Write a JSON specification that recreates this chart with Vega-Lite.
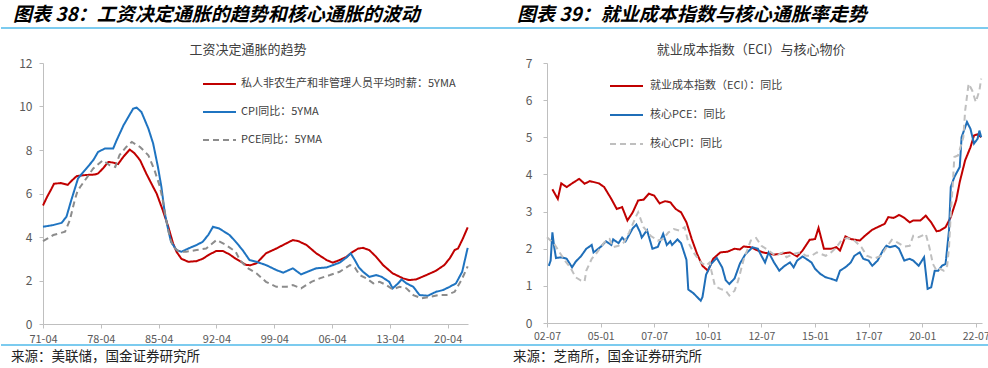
{
"$schema": "https://vega.github.io/schema/vega-lite/v6.json",
"padding": 0,
"background": "white",
"spacing": 0,
"config": {
  "view": {"stroke": null},
  "font": "Noto Sans CJK SC",
  "axis": {"labelFont": "Noto Sans CJK SC", "labelFontSize": 12, "labelColor": "#595959", "domainColor": "#BFBFBF", "tickColor": "#BFBFBF", "grid": false, "title": null, "tickSize": 4, "labelFlush": false, "labelOverlap": false, "labelBound": false}
},
"datasets": {
  "heads": [{"p": "L", "t": "图表 38：工资决定通胀的趋势和核心通胀的波动"}, {"p": "R", "t": "图表 39：就业成本指数与核心通胀率走势"}],
  "titles": [{"p": "L", "t": "工资决定通胀的趋势"}, {"p": "R", "t": "就业成本指数（ECI）与核心物价"}],
  "foots": [{"p": "L", "t": "来源：美联储，国金证券研究所"}, {"p": "R", "t": "来源：芝商所，国金证券研究所"}],
  "left": [
    {"s":"A","d":"1971/04/01","v":5.45},{"s":"A","d":"1971/10/01","v":5.85},{"s":"A","d":"1972/04/01","v":6.2},{"s":"A","d":"1972/08/01","v":6.45},{"s":"A","d":"1973/06/01","v":6.48},{"s":"A","d":"1974/04/01","v":6.4},{"s":"A","d":"1974/10/01","v":6.6},{"s":"A","d":"1975/05/01","v":6.8},{"s":"A","d":"1976/06/01","v":6.85},{"s":"A","d":"1977/07/01","v":6.87},{"s":"A","d":"1977/12/01","v":6.92},{"s":"A","d":"1978/07/01","v":7.15},{"s":"A","d":"1979/03/01","v":7.45},{"s":"A","d":"1979/10/01","v":7.42},{"s":"A","d":"1980/05/01","v":7.35},{"s":"A","d":"1981/01/01","v":7.7},{"s":"A","d":"1981/10/01","v":8.02},{"s":"A","d":"1982/05/01","v":7.85},{"s":"A","d":"1983/01/01","v":7.53},{"s":"A","d":"1983/10/01","v":6.92},{"s":"A","d":"1984/08/01","v":6.3},{"s":"A","d":"1985/01/01","v":6.0},{"s":"A","d":"1985/10/01","v":5.23},{"s":"A","d":"1986/06/01","v":4.47},{"s":"A","d":"1987/01/01","v":3.7},{"s":"A","d":"1987/06/01","v":3.32},{"s":"A","d":"1988/01/01","v":3.0},{"s":"A","d":"1988/11/01","v":2.86},{"s":"A","d":"1989/11/01","v":2.89},{"s":"A","d":"1990/08/01","v":3.0},{"s":"A","d":"1991/06/01","v":3.2},{"s":"A","d":"1992/04/01","v":3.36},{"s":"A","d":"1993/01/01","v":3.36},{"s":"A","d":"1993/11/01","v":3.2},{"s":"A","d":"1994/08/01","v":3.0},{"s":"A","d":"1995/11/01","v":2.72},{"s":"A","d":"1996/05/01","v":2.7},{"s":"A","d":"1997/02/01","v":2.79},{"s":"A","d":"1998/04/01","v":3.25},{"s":"A","d":"1999/07/01","v":3.47},{"s":"A","d":"2000/09/01","v":3.7},{"s":"A","d":"2001/07/01","v":3.86},{"s":"A","d":"2002/03/01","v":3.81},{"s":"A","d":"2003/03/01","v":3.63},{"s":"A","d":"2004/05/01","v":3.25},{"s":"A","d":"2005/08/01","v":2.94},{"s":"A","d":"2006/05/01","v":2.82},{"s":"A","d":"2007/03/01","v":2.94},{"s":"A","d":"2008/01/01","v":3.09},{"s":"A","d":"2008/10/01","v":3.32},{"s":"A","d":"2009/06/01","v":3.47},{"s":"A","d":"2010/01/01","v":3.5},{"s":"A","d":"2010/10/01","v":3.4},{"s":"A","d":"2011/08/01","v":3.09},{"s":"A","d":"2012/06/01","v":2.71},{"s":"A","d":"2013/08/01","v":2.33},{"s":"A","d":"2014/11/01","v":2.1},{"s":"A","d":"2015/08/01","v":2.02},{"s":"A","d":"2016/06/01","v":2.05},{"s":"A","d":"2017/09/01","v":2.25},{"s":"A","d":"2018/11/01","v":2.45},{"s":"A","d":"2019/11/01","v":2.71},{"s":"A","d":"2020/07/01","v":3.02},{"s":"A","d":"2021/02/01","v":3.4},{"s":"A","d":"2021/07/01","v":3.47},{"s":"A","d":"2022/02/01","v":3.93},{"s":"A","d":"2022/09/01","v":4.44},
    {"s":"B","d":"1971/04/01","v":4.47},{"s":"B","d":"1972/07/01","v":4.55},{"s":"B","d":"1973/07/01","v":4.65},{"s":"B","d":"1974/02/01","v":4.93},{"s":"B","d":"1974/09/01","v":5.69},{"s":"B","d":"1975/02/01","v":6.2},{"s":"B","d":"1975/07/01","v":6.7},{"s":"B","d":"1976/07/01","v":7.15},{"s":"B","d":"1977/05/01","v":7.53},{"s":"B","d":"1977/12/01","v":7.91},{"s":"B","d":"1978/10/01","v":8.07},{"s":"B","d":"1979/10/01","v":8.07},{"s":"B","d":"1980/03/01","v":8.45},{"s":"B","d":"1981/01/01","v":9.14},{"s":"B","d":"1981/08/01","v":9.52},{"s":"B","d":"1982/03/01","v":9.9},{"s":"B","d":"1982/08/01","v":9.95},{"s":"B","d":"1983/03/01","v":9.75},{"s":"B","d":"1984/01/01","v":8.99},{"s":"B","d":"1984/08/01","v":8.3},{"s":"B","d":"1985/03/01","v":7.22},{"s":"B","d":"1985/08/01","v":6.3},{"s":"B","d":"1986/01/01","v":5.08},{"s":"B","d":"1986/06/01","v":4.32},{"s":"B","d":"1986/10/01","v":3.78},{"s":"B","d":"1987/06/01","v":3.4},{"s":"B","d":"1988/01/01","v":3.32},{"s":"B","d":"1988/11/01","v":3.47},{"s":"B","d":"1989/11/01","v":3.63},{"s":"B","d":"1990/08/01","v":3.78},{"s":"B","d":"1991/04/01","v":4.09},{"s":"B","d":"1991/11/01","v":4.47},{"s":"B","d":"1992/08/01","v":4.39},{"s":"B","d":"1993/11/01","v":4.09},{"s":"B","d":"1994/08/01","v":3.78},{"s":"B","d":"1995/06/01","v":3.4},{"s":"B","d":"1996/04/01","v":2.94},{"s":"B","d":"1997/02/01","v":2.86},{"s":"B","d":"1998/04/01","v":2.71},{"s":"B","d":"1999/07/01","v":2.48},{"s":"B","d":"2000/05/01","v":2.36},{"s":"B","d":"2001/07/01","v":2.56},{"s":"B","d":"2002/07/01","v":2.28},{"s":"B","d":"2003/08/01","v":2.45},{"s":"B","d":"2004/05/01","v":2.56},{"s":"B","d":"2005/08/01","v":2.6},{"s":"B","d":"2007/03/01","v":2.82},{"s":"B","d":"2008/01/01","v":3.06},{"s":"B","d":"2008/07/01","v":3.25},{"s":"B","d":"2009/01/01","v":2.94},{"s":"B","d":"2009/07/01","v":2.6},{"s":"B","d":"2010/01/01","v":2.4},{"s":"B","d":"2010/10/01","v":2.17},{"s":"B","d":"2011/08/01","v":2.25},{"s":"B","d":"2012/04/01","v":2.17},{"s":"B","d":"2013/03/01","v":1.94},{"s":"B","d":"2013/08/01","v":1.64},{"s":"B","d":"2014/04/01","v":1.87},{"s":"B","d":"2014/09/01","v":2.05},{"s":"B","d":"2015/04/01","v":1.87},{"s":"B","d":"2016/02/01","v":1.71},{"s":"B","d":"2016/11/01","v":1.33},{"s":"B","d":"2017/11/01","v":1.3},{"s":"B","d":"2018/11/01","v":1.48},{"s":"B","d":"2019/09/01","v":1.56},{"s":"B","d":"2020/07/01","v":1.71},{"s":"B","d":"2021/04/01","v":1.87},{"s":"B","d":"2022/01/01","v":2.4},{"s":"B","d":"2022/09/01","v":3.5},
    {"s":"C","d":"1971/04/01","v":3.81},{"s":"C","d":"1972/07/01","v":4.09},{"s":"C","d":"1973/12/01","v":4.24},{"s":"C","d":"1974/07/01","v":4.78},{"s":"C","d":"1975/02/01","v":5.69},{"s":"C","d":"1975/06/01","v":6.1},{"s":"C","d":"1975/10/01","v":6.3},{"s":"C","d":"1976/05/01","v":6.61},{"s":"C","d":"1977/05/01","v":7.15},{"s":"C","d":"1978/07/01","v":7.53},{"s":"C","d":"1979/05/01","v":7.3},{"s":"C","d":"1980/01/01","v":7.22},{"s":"C","d":"1980/07/01","v":7.76},{"s":"C","d":"1981/05/01","v":8.14},{"s":"C","d":"1982/01/01","v":8.37},{"s":"C","d":"1983/01/01","v":8.14},{"s":"C","d":"1984/01/01","v":7.76},{"s":"C","d":"1984/10/01","v":7.07},{"s":"C","d":"1985/06/01","v":6.3},{"s":"C","d":"1985/10/01","v":5.69},{"s":"C","d":"1986/03/01","v":4.78},{"s":"C","d":"1986/08/01","v":4.01},{"s":"C","d":"1987/01/01","v":3.55},{"s":"C","d":"1987/10/01","v":3.32},{"s":"C","d":"1988/08/01","v":3.32},{"s":"C","d":"1989/11/01","v":3.4},{"s":"C","d":"1991/01/01","v":3.47},{"s":"C","d":"1992/04/01","v":3.86},{"s":"C","d":"1993/06/01","v":3.63},{"s":"C","d":"1994/08/01","v":3.32},{"s":"C","d":"1995/02/01","v":2.94},{"s":"C","d":"1996/01/01","v":2.58},{"s":"C","d":"1997/02/01","v":2.33},{"s":"C","d":"1998/04/01","v":1.94},{"s":"C","d":"1999/07/01","v":1.71},{"s":"C","d":"2000/10/01","v":1.71},{"s":"C","d":"2001/07/01","v":1.79},{"s":"C","d":"2002/07/01","v":1.64},{"s":"C","d":"2003/10/01","v":1.94},{"s":"C","d":"2004/10/01","v":2.1},{"s":"C","d":"2006/01/01","v":2.25},{"s":"C","d":"2007/03/01","v":2.4},{"s":"C","d":"2008/06/01","v":2.71},{"s":"C","d":"2009/01/01","v":2.6},{"s":"C","d":"2009/08/01","v":2.25},{"s":"C","d":"2010/06/01","v":2.1},{"s":"C","d":"2011/04/01","v":1.87},{"s":"C","d":"2012/01/01","v":1.94},{"s":"C","d":"2012/11/01","v":1.79},{"s":"C","d":"2013/08/01","v":1.59},{"s":"C","d":"2014/06/01","v":1.71},{"s":"C","d":"2015/04/01","v":1.64},{"s":"C","d":"2016/02/01","v":1.33},{"s":"C","d":"2017/02/01","v":1.18},{"s":"C","d":"2018/02/01","v":1.25},{"s":"C","d":"2019/02/01","v":1.33},{"s":"C","d":"2020/02/01","v":1.33},{"s":"C","d":"2021/02/01","v":1.48},{"s":"C","d":"2021/12/01","v":2.02},{"s":"C","d":"2022/09/01","v":2.65}
  ],
  "right": [
    {"s":"A","d":"2002/10/01","v":3.6},{"s":"A","d":"2003/01/01","v":3.34},{"s":"A","d":"2003/03/01","v":3.76},{"s":"A","d":"2003/06/01","v":3.66},{"s":"A","d":"2003/10/01","v":3.79},{"s":"A","d":"2004/01/01","v":3.88},{"s":"A","d":"2004/04/01","v":3.75},{"s":"A","d":"2004/07/01","v":3.82},{"s":"A","d":"2004/12/01","v":3.76},{"s":"A","d":"2005/03/01","v":3.66},{"s":"A","d":"2005/07/01","v":3.34},{"s":"A","d":"2005/10/01","v":3.07},{"s":"A","d":"2006/01/01","v":3.12},{"s":"A","d":"2006/04/01","v":2.76},{"s":"A","d":"2006/07/01","v":2.98},{"s":"A","d":"2006/10/01","v":3.3},{"s":"A","d":"2007/01/01","v":3.32},{"s":"A","d":"2007/04/01","v":3.48},{"s":"A","d":"2007/07/01","v":3.43},{"s":"A","d":"2007/10/01","v":3.22},{"s":"A","d":"2008/01/01","v":3.28},{"s":"A","d":"2008/04/01","v":3.25},{"s":"A","d":"2008/07/01","v":3.07},{"s":"A","d":"2008/10/01","v":2.98},{"s":"A","d":"2009/01/01","v":2.71},{"s":"A","d":"2009/04/01","v":2.26},{"s":"A","d":"2009/07/01","v":1.86},{"s":"A","d":"2009/10/01","v":1.54},{"s":"A","d":"2010/01/01","v":1.41},{"s":"A","d":"2010/04/01","v":1.73},{"s":"A","d":"2010/08/01","v":1.9},{"s":"A","d":"2010/12/01","v":1.92},{"s":"A","d":"2011/04/01","v":2.0},{"s":"A","d":"2011/07/01","v":1.98},{"s":"A","d":"2011/09/01","v":2.06},{"s":"A","d":"2012/01/01","v":2.04},{"s":"A","d":"2012/05/01","v":1.95},{"s":"A","d":"2012/08/01","v":1.9},{"s":"A","d":"2013/02/01","v":1.84},{"s":"A","d":"2013/08/01","v":1.88},{"s":"A","d":"2013/11/01","v":1.9},{"s":"A","d":"2014/03/01","v":1.79},{"s":"A","d":"2014/06/01","v":1.95},{"s":"A","d":"2014/10/01","v":2.24},{"s":"A","d":"2015/01/01","v":2.26},{"s":"A","d":"2015/03/01","v":2.56},{"s":"A","d":"2015/06/01","v":2.0},{"s":"A","d":"2015/10/01","v":2.0},{"s":"A","d":"2016/01/01","v":2.04},{"s":"A","d":"2016/03/01","v":1.95},{"s":"A","d":"2016/06/01","v":2.33},{"s":"A","d":"2016/09/01","v":2.26},{"s":"A","d":"2017/02/01","v":2.22},{"s":"A","d":"2017/05/01","v":2.35},{"s":"A","d":"2017/09/01","v":2.51},{"s":"A","d":"2017/12/01","v":2.58},{"s":"A","d":"2018/04/01","v":2.67},{"s":"A","d":"2018/06/01","v":2.85},{"s":"A","d":"2018/09/01","v":2.83},{"s":"A","d":"2018/12/01","v":2.91},{"s":"A","d":"2019/03/01","v":2.83},{"s":"A","d":"2019/06/01","v":2.71},{"s":"A","d":"2019/08/01","v":2.76},{"s":"A","d":"2019/12/01","v":2.76},{"s":"A","d":"2020/03/01","v":2.89},{"s":"A","d":"2020/06/01","v":2.71},{"s":"A","d":"2020/09/01","v":2.47},{"s":"A","d":"2020/11/01","v":2.49},{"s":"A","d":"2021/02/01","v":2.58},{"s":"A","d":"2021/05/01","v":2.85},{"s":"A","d":"2021/08/01","v":3.3},{"s":"A","d":"2021/10/01","v":3.8},{"s":"A","d":"2022/01/01","v":4.38},{"s":"A","d":"2022/04/01","v":4.73},{"s":"A","d":"2022/06/01","v":5.05},{"s":"A","d":"2022/08/01","v":5.08},{"s":"A","d":"2022/10/01","v":5.0},
    {"s":"B","d":"2002/08/01","v":1.54},{"s":"B","d":"2002/09/01","v":1.68},{"s":"B","d":"2002/10/01","v":2.44},{"s":"B","d":"2002/11/01","v":2.04},{"s":"B","d":"2002/12/01","v":1.75},{"s":"B","d":"2003/03/01","v":1.77},{"s":"B","d":"2003/06/01","v":1.73},{"s":"B","d":"2003/09/01","v":1.5},{"s":"B","d":"2003/11/01","v":1.65},{"s":"B","d":"2004/02/01","v":1.8},{"s":"B","d":"2004/05/01","v":2.0},{"s":"B","d":"2004/08/01","v":2.1},{"s":"B","d":"2004/09/01","v":1.9},{"s":"B","d":"2005/01/01","v":2.05},{"s":"B","d":"2005/04/01","v":2.2},{"s":"B","d":"2005/07/01","v":2.1},{"s":"B","d":"2005/08/01","v":2.25},{"s":"B","d":"2005/11/01","v":2.15},{"s":"B","d":"2006/01/01","v":2.3},{"s":"B","d":"2006/03/01","v":2.2},{"s":"B","d":"2006/07/01","v":2.55},{"s":"B","d":"2006/09/01","v":2.65},{"s":"B","d":"2006/11/01","v":2.45},{"s":"B","d":"2006/12/01","v":2.3},{"s":"B","d":"2007/03/01","v":2.5},{"s":"B","d":"2007/06/01","v":2.0},{"s":"B","d":"2007/09/01","v":2.05},{"s":"B","d":"2007/12/01","v":2.4},{"s":"B","d":"2008/02/01","v":2.1},{"s":"B","d":"2008/04/01","v":2.2},{"s":"B","d":"2008/05/01","v":2.1},{"s":"B","d":"2008/08/01","v":2.25},{"s":"B","d":"2008/10/01","v":2.15},{"s":"B","d":"2009/01/01","v":1.7},{"s":"B","d":"2009/02/01","v":0.9},{"s":"B","d":"2009/05/01","v":0.8},{"s":"B","d":"2009/07/01","v":0.7},{"s":"B","d":"2009/09/01","v":0.6},{"s":"B","d":"2009/10/01","v":0.7},{"s":"B","d":"2009/12/01","v":1.3},{"s":"B","d":"2010/03/01","v":1.6},{"s":"B","d":"2010/06/01","v":1.75},{"s":"B","d":"2010/09/01","v":1.5},{"s":"B","d":"2010/11/01","v":1.15},{"s":"B","d":"2011/01/01","v":1.05},{"s":"B","d":"2011/04/01","v":1.2},{"s":"B","d":"2011/07/01","v":1.6},{"s":"B","d":"2011/10/01","v":1.85},{"s":"B","d":"2012/02/01","v":2.04},{"s":"B","d":"2012/05/01","v":2.0},{"s":"B","d":"2012/07/01","v":1.81},{"s":"B","d":"2012/09/01","v":1.63},{"s":"B","d":"2012/11/01","v":1.9},{"s":"B","d":"2013/02/01","v":1.63},{"s":"B","d":"2013/05/01","v":1.41},{"s":"B","d":"2013/08/01","v":1.54},{"s":"B","d":"2013/11/01","v":1.63},{"s":"B","d":"2014/01/01","v":1.5},{"s":"B","d":"2014/03/01","v":1.68},{"s":"B","d":"2014/06/01","v":1.79},{"s":"B","d":"2014/08/01","v":1.73},{"s":"B","d":"2014/11/01","v":1.63},{"s":"B","d":"2015/01/01","v":1.46},{"s":"B","d":"2015/04/01","v":1.32},{"s":"B","d":"2015/07/01","v":1.23},{"s":"B","d":"2015/10/01","v":1.19},{"s":"B","d":"2016/01/01","v":1.14},{"s":"B","d":"2016/03/01","v":1.41},{"s":"B","d":"2016/06/01","v":1.5},{"s":"B","d":"2016/09/01","v":1.63},{"s":"B","d":"2016/11/01","v":1.81},{"s":"B","d":"2017/02/01","v":1.9},{"s":"B","d":"2017/04/01","v":1.73},{"s":"B","d":"2017/07/01","v":1.68},{"s":"B","d":"2017/09/01","v":1.54},{"s":"B","d":"2017/12/01","v":1.68},{"s":"B","d":"2018/03/01","v":1.95},{"s":"B","d":"2018/05/01","v":2.08},{"s":"B","d":"2018/07/01","v":2.04},{"s":"B","d":"2018/10/01","v":2.08},{"s":"B","d":"2018/12/01","v":2.0},{"s":"B","d":"2019/03/01","v":1.68},{"s":"B","d":"2019/06/01","v":1.73},{"s":"B","d":"2019/08/01","v":1.68},{"s":"B","d":"2019/11/01","v":1.54},{"s":"B","d":"2020/02/01","v":1.77},{"s":"B","d":"2020/04/01","v":0.92},{"s":"B","d":"2020/06/01","v":0.96},{"s":"B","d":"2020/08/01","v":1.41},{"s":"B","d":"2020/10/01","v":1.41},{"s":"B","d":"2020/12/01","v":1.54},{"s":"B","d":"2021/02/01","v":1.59},{"s":"B","d":"2021/04/01","v":2.49},{"s":"B","d":"2021/05/01","v":3.66},{"s":"B","d":"2021/07/01","v":3.93},{"s":"B","d":"2021/10/01","v":4.2},{"s":"B","d":"2021/11/01","v":5.0},{"s":"B","d":"2022/02/01","v":5.41},{"s":"B","d":"2022/04/01","v":5.23},{"s":"B","d":"2022/06/01","v":4.83},{"s":"B","d":"2022/08/01","v":4.96},{"s":"B","d":"2022/09/01","v":5.18},{"s":"B","d":"2022/10/01","v":5.0},
    {"s":"C","d":"2002/07/01","v":2.31},{"s":"C","d":"2002/11/01","v":2.13},{"s":"C","d":"2003/02/01","v":1.9},{"s":"C","d":"2003/05/01","v":1.68},{"s":"C","d":"2003/08/01","v":1.5},{"s":"C","d":"2003/11/01","v":1.23},{"s":"C","d":"2004/02/01","v":1.14},{"s":"C","d":"2004/04/01","v":1.12},{"s":"C","d":"2004/05/01","v":1.41},{"s":"C","d":"2004/08/01","v":1.73},{"s":"C","d":"2004/11/01","v":1.9},{"s":"C","d":"2005/03/01","v":2.17},{"s":"C","d":"2005/06/01","v":2.26},{"s":"C","d":"2005/08/01","v":2.04},{"s":"C","d":"2005/11/01","v":2.08},{"s":"C","d":"2006/02/01","v":2.17},{"s":"C","d":"2006/05/01","v":2.44},{"s":"C","d":"2006/09/01","v":2.89},{"s":"C","d":"2006/10/01","v":2.98},{"s":"C","d":"2007/01/01","v":2.58},{"s":"C","d":"2007/05/01","v":2.35},{"s":"C","d":"2007/09/01","v":2.22},{"s":"C","d":"2007/12/01","v":2.26},{"s":"C","d":"2008/03/01","v":2.44},{"s":"C","d":"2008/06/01","v":2.53},{"s":"C","d":"2008/09/01","v":2.49},{"s":"C","d":"2008/12/01","v":2.58},{"s":"C","d":"2009/02/01","v":2.17},{"s":"C","d":"2009/05/01","v":1.9},{"s":"C","d":"2009/09/01","v":1.63},{"s":"C","d":"2009/12/01","v":1.54},{"s":"C","d":"2010/02/01","v":1.63},{"s":"C","d":"2010/03/01","v":1.41},{"s":"C","d":"2010/05/01","v":1.0},{"s":"C","d":"2010/08/01","v":0.92},{"s":"C","d":"2010/11/01","v":0.87},{"s":"C","d":"2011/01/01","v":0.74},{"s":"C","d":"2011/04/01","v":0.87},{"s":"C","d":"2011/06/01","v":1.14},{"s":"C","d":"2011/09/01","v":1.7},{"s":"C","d":"2012/01/01","v":2.22},{"s":"C","d":"2012/04/01","v":2.29},{"s":"C","d":"2012/07/01","v":2.08},{"s":"C","d":"2012/11/01","v":1.95},{"s":"C","d":"2013/03/01","v":1.81},{"s":"C","d":"2013/07/01","v":1.9},{"s":"C","d":"2013/09/01","v":1.77},{"s":"C","d":"2014/01/01","v":1.86},{"s":"C","d":"2014/05/01","v":1.9},{"s":"C","d":"2014/08/01","v":1.81},{"s":"C","d":"2014/11/01","v":1.81},{"s":"C","d":"2015/02/01","v":1.9},{"s":"C","d":"2015/07/01","v":1.81},{"s":"C","d":"2015/10/01","v":1.9},{"s":"C","d":"2016/01/01","v":2.04},{"s":"C","d":"2016/04/01","v":2.24},{"s":"C","d":"2016/07/01","v":2.29},{"s":"C","d":"2016/11/01","v":2.22},{"s":"C","d":"2017/03/01","v":2.04},{"s":"C","d":"2017/06/01","v":1.81},{"s":"C","d":"2017/10/01","v":1.73},{"s":"C","d":"2018/02/01","v":1.81},{"s":"C","d":"2018/05/01","v":2.04},{"s":"C","d":"2018/08/01","v":2.24},{"s":"C","d":"2018/11/01","v":2.17},{"s":"C","d":"2019/03/01","v":2.06},{"s":"C","d":"2019/06/01","v":2.08},{"s":"C","d":"2019/08/01","v":2.35},{"s":"C","d":"2019/11/01","v":2.31},{"s":"C","d":"2020/03/01","v":2.4},{"s":"C","d":"2020/05/01","v":2.04},{"s":"C","d":"2020/07/01","v":1.59},{"s":"C","d":"2020/09/01","v":1.41},{"s":"C","d":"2020/11/01","v":1.46},{"s":"C","d":"2021/01/01","v":1.41},{"s":"C","d":"2021/03/01","v":1.54},{"s":"C","d":"2021/04/01","v":2.04},{"s":"C","d":"2021/05/01","v":2.94},{"s":"C","d":"2021/06/01","v":3.66},{"s":"C","d":"2021/07/01","v":4.47},{"s":"C","d":"2021/09/01","v":4.51},{"s":"C","d":"2021/12/01","v":5.0},{"s":"C","d":"2022/01/01","v":5.72},{"s":"C","d":"2022/03/01","v":6.44},{"s":"C","d":"2022/05/01","v":6.26},{"s":"C","d":"2022/07/01","v":5.95},{"s":"C","d":"2022/09/01","v":6.26},{"s":"C","d":"2022/10/01","v":6.58}
  ]
},
"resolve": {"scale": {"color": "independent", "strokeDash": "independent"}, "legend": {"color": "independent", "strokeDash": "independent"}},
"vconcat": [
  {
    "width": 988, "height": 28,
    "data": {"name": "heads"},
    "layer": [
      {"transform": [{"filter": "datum.p == 'L'"}],
       "mark": {"type": "text", "align": "left", "dx": 12, "dy": 0.5, "fontSize": 19, "fontWeight": "bold", "fontStyle": "italic", "color": "#000000"},
       "encoding": {"x": {"field": "p", "type": "nominal", "scale": {"type": "point", "domain": ["L", "R", "E"], "padding": 0}, "axis": null}, "text": {"field": "t"}}},
      {"transform": [{"filter": "datum.p == 'R'"}],
       "mark": {"type": "text", "align": "left", "dx": 22, "dy": 0.5, "fontSize": 19, "fontWeight": "bold", "fontStyle": "italic", "color": "#000000"},
       "encoding": {"x": {"field": "p", "type": "nominal", "scale": {"type": "point", "domain": ["L", "R", "E"], "padding": 0}, "axis": null}, "text": {"field": "t"}}},
      {"mark": {"type": "rule", "color": "#7CCBEF", "strokeWidth": 2},
       "encoding": {"y": {"value": "height"}}}
    ]
  },
  {
    "width": 988, "height": 28,
    "data": {"name": "titles"},
    "layer": [
      {"transform": [{"filter": "datum.p == 'L'"}],
       "mark": {"type": "text", "align": "center", "dy": 7, "fontSize": 13, "color": "#404040"},
       "encoding": {"x": {"field": "p", "type": "nominal", "scale": {"domain": ["L", "R"], "paddingInner": 0, "paddingOuter": 0}, "axis": null}, "text": {"field": "t"}}},
      {"transform": [{"filter": "datum.p == 'R'"}],
       "mark": {"type": "text", "align": "center", "dx": 9, "dy": 7, "fontSize": 13, "color": "#404040"},
       "encoding": {"x": {"field": "p", "type": "nominal", "scale": {"domain": ["L", "R"], "paddingInner": 0, "paddingOuter": 0}, "axis": null}, "text": {"field": "t"}}}
    ]
  },
  {
    "spacing": 16,
    "resolve": {"scale": {"color": "independent", "strokeDash": "independent"}, "legend": {"color": "independent", "strokeDash": "independent"}},
    "hconcat": [
      {"width": 1, "height": 1, "data": {"values": []}, "mark": "point"},
      {
        "spacing": 53,
        "resolve": {"scale": {"color": "independent", "strokeDash": "independent"}, "legend": {"color": "independent", "strokeDash": "independent"}},
        "hconcat": [
          {
            "width": 425, "height": 261,
            "data": {"name": "left"},
            "mark": {"type": "line", "strokeWidth": 2},
            "encoding": {
              "x": {"field": "d", "type": "temporal",
                    "scale": {"domain": [{"year": 1971, "month": 4, "date": 1}, {"year": 2022, "month": 9, "date": 15}]},
                    "axis": {"format": "%y-%m", "labelPadding": 5, "labelFontSize": 11,
                             "values": [{"year": 1971, "month": 4, "date": 1}, {"year": 1978, "month": 4, "date": 1}, {"year": 1985, "month": 4, "date": 1}, {"year": 1992, "month": 4, "date": 1}, {"year": 1999, "month": 4, "date": 1}, {"year": 2006, "month": 4, "date": 1}, {"year": 2013, "month": 4, "date": 1}, {"year": 2020, "month": 4, "date": 1}]}},
              "y": {"field": "v", "type": "quantitative", "scale": {"domain": [0, 12], "nice": false},
                    "axis": {"values": [0, 2, 4, 6, 8, 10, 12], "labelPadding": 7}},
              "color": {"field": "s", "type": "nominal",
                        "scale": {"domain": ["A", "B", "C"], "range": ["#C00000", "#1F74C1", "#8C8C8C"]},
                        "legend": {"orient": "none", "legendX": 159, "legendY": 14, "title": null, "symbolType": "stroke", "symbolSize": 1089, "symbolStrokeWidth": 2, "labelFontSize": 11, "labelColor": "#404040", "labelFont": "Noto Sans CJK SC", "labelLimit": 400, "rowPadding": 14, "clipHeight": 14, "labelOffset": 4,
                                   "labelExpr": "datum.label == 'A' ? '私人非农生产和非管理人员平均时薪：5YMA' : datum.label == 'B' ? 'CPI同比：5YMA' : 'PCE同比：5YMA'"}},
              "strokeDash": {"field": "s", "type": "nominal",
                             "scale": {"domain": ["A", "B", "C"], "range": [[1, 0], [1, 0], [6, 4]]},
                             "legend": {"orient": "none", "legendX": 159, "legendY": 14, "title": null, "symbolType": "stroke", "symbolSize": 1089, "symbolStrokeWidth": 2, "labelFontSize": 11, "labelColor": "#404040", "labelFont": "Noto Sans CJK SC", "labelLimit": 400, "rowPadding": 14, "clipHeight": 14, "labelOffset": 4,
                                        "labelExpr": "datum.label == 'A' ? '私人非农生产和非管理人员平均时薪：5YMA' : datum.label == 'B' ? 'CPI同比：5YMA' : 'PCE同比：5YMA'"}}
            }
          },
          {
            "width": 435, "height": 260,
            "data": {"name": "right"},
            "mark": {"type": "line", "strokeWidth": 2},
            "encoding": {
              "x": {"field": "d", "type": "temporal",
                    "scale": {"domain": [{"year": 2002, "month": 7, "date": 1}, {"year": 2022, "month": 10, "date": 15}]},
                    "axis": {"format": "%y-%m", "labelPadding": 4, "labelFontSize": 10.5,
                             "values": [{"year": 2002, "month": 7, "date": 1}, {"year": 2005, "month": 1, "date": 1}, {"year": 2007, "month": 7, "date": 1}, {"year": 2010, "month": 1, "date": 1}, {"year": 2012, "month": 7, "date": 1}, {"year": 2015, "month": 1, "date": 1}, {"year": 2017, "month": 7, "date": 1}, {"year": 2020, "month": 1, "date": 1}, {"year": 2022, "month": 7, "date": 1}]}},
              "y": {"field": "v", "type": "quantitative", "scale": {"domain": [0, 7], "nice": false},
                    "axis": {"values": [0, 1, 2, 3, 4, 5, 6, 7], "labelPadding": 11}},
              "color": {"field": "s", "type": "nominal",
                        "scale": {"domain": ["A", "B", "C"], "range": ["#C00000", "#1F6EB8", "#BFBFBF"]},
                        "legend": {"orient": "none", "legendX": 62, "legendY": 16, "title": null, "symbolType": "stroke", "symbolSize": 1089, "symbolStrokeWidth": 2, "labelFontSize": 11, "labelColor": "#404040", "labelFont": "Noto Sans CJK SC", "labelLimit": 400, "rowPadding": 15, "clipHeight": 14, "labelOffset": 6,
                                   "labelExpr": "datum.label == 'A' ? '就业成本指数（ECI）：同比' : datum.label == 'B' ? '核心PCE：同比' : '核心CPI：同比'"}},
              "strokeDash": {"field": "s", "type": "nominal",
                             "scale": {"domain": ["A", "B", "C"], "range": [[1, 0], [1, 0], [6, 4]]},
                             "legend": {"orient": "none", "legendX": 62, "legendY": 16, "title": null, "symbolType": "stroke", "symbolSize": 1089, "symbolStrokeWidth": 2, "labelFontSize": 11, "labelColor": "#404040", "labelFont": "Noto Sans CJK SC", "labelLimit": 400, "rowPadding": 15, "clipHeight": 14, "labelOffset": 6,
                                        "labelExpr": "datum.label == 'A' ? '就业成本指数（ECI）：同比' : datum.label == 'B' ? '核心PCE：同比' : '核心CPI：同比'"}}
            }
          }
        ]
      }
    ]
  },
  {
    "width": 988, "height": 21,
    "data": {"name": "foots"},
    "layer": [
      {"transform": [{"filter": "datum.p == 'L'"}],
       "mark": {"type": "text", "align": "left", "dx": 10, "dy": 1, "fontSize": 13.5, "color": "#222222"},
       "encoding": {"x": {"field": "p", "type": "nominal", "scale": {"type": "point", "domain": ["L", "R", "E"], "padding": 0}, "axis": null}, "text": {"field": "t"}}},
      {"transform": [{"filter": "datum.p == 'R'"}],
       "mark": {"type": "text", "align": "left", "dx": 18, "dy": 1, "fontSize": 13.5, "color": "#222222"},
       "encoding": {"x": {"field": "p", "type": "nominal", "scale": {"type": "point", "domain": ["L", "R", "E"], "padding": 0}, "axis": null}, "text": {"field": "t"}}},
      {"mark": {"type": "rule", "color": "#7CCBEF", "strokeWidth": 2},
       "encoding": {"y": {"value": 0}}}
    ]
  }
]
}
